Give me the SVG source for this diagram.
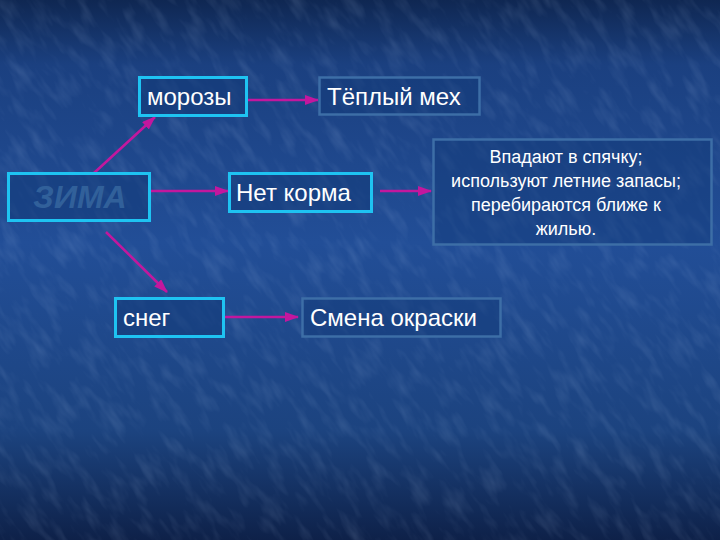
<svg xmlns="http://www.w3.org/2000/svg" width="720" height="540" viewBox="0 0 720 540">
<defs>
<linearGradient id="bg" x1="0" y1="0" x2="0" y2="1">
<stop offset="0" stop-color="#0f2752"/>
<stop offset="0.12" stop-color="#1b4080"/>
<stop offset="0.45" stop-color="#224e97"/>
<stop offset="0.8" stop-color="#1c437f"/>
<stop offset="1" stop-color="#0e2149"/>
</linearGradient>
<filter id="tex" x="0" y="0" width="100%" height="100%">
<feTurbulence type="fractalNoise" baseFrequency="0.09 0.03" numOctaves="3" seed="7" result="n"/>
<feColorMatrix type="matrix" values="0 0 0 0 0.6  0 0 0 0 0.75  0 0 0 0 1  0 0 0 1.3 -0.6"/>
</filter>
<marker id="ah" markerWidth="14" markerHeight="10" refX="13" refY="5" orient="auto" markerUnits="userSpaceOnUse">
<path d="M0,0 L14,5 L0,10 Z" fill="#c3179e"/>
</marker>
<style>
.hot{fill:#123a78;fill-opacity:0.55;stroke:#1ec3f2;stroke-width:3}
.cool{fill:#123a78;fill-opacity:0.45;stroke:#3d6ea6;stroke-width:2.5}
.t{font-family:"Liberation Sans",Arial,sans-serif;font-size:24px;fill:#ffffff}
.s{font-family:"Liberation Sans",Arial,sans-serif;font-size:18px;fill:#ffffff;text-anchor:middle}
.c{stroke:#c3179e;stroke-width:2.5;fill:none;marker-end:url(#ah)}
</style>
</defs>
<rect width="720" height="540" fill="url(#bg)"/>
<g transform="rotate(-35 360 270)">
<rect x="-200" y="-200" width="1120" height="940" filter="url(#tex)" opacity="0.2"/>
</g>
<g id="connectors">
<line class="c" x1="248" y1="100" x2="318" y2="100"/>
<line class="c" x1="94" y1="173" x2="155" y2="117"/>
<line class="c" x1="151" y1="191" x2="228" y2="191"/>
<line class="c" x1="106" y1="232" x2="167" y2="292"/>
<line class="c" x1="380" y1="191" x2="431" y2="191"/>
<line class="c" x1="225" y1="317" x2="298" y2="317"/>
</g>
<g id="zima">
<rect class="hot" x="8.5" y="173.5" width="141" height="47"/>
<text x="80" y="208" text-anchor="middle" font-family="Liberation Sans,Arial,sans-serif" font-size="32" font-weight="bold" font-style="italic" fill="#31609a">ЗИМА</text>
</g>
<g id="morozy">
<rect class="hot" x="139.5" y="77.5" width="107" height="38"/>
<text class="t" x="147" y="105">морозы</text>
</g>
<g id="teply">
<rect class="cool" x="319.5" y="77.5" width="160" height="37"/>
<text class="t" x="327" y="105">Тёплый мех</text>
</g>
<g id="netkorma">
<rect class="hot" x="229.5" y="173.5" width="142" height="38"/>
<text class="t" x="236" y="201">Нет корма</text>
</g>
<g id="vpadayut">
<rect class="cool" x="433.5" y="139.5" width="278" height="105"/>
<text class="s" x="566" y="163">Впадают в спячку;</text>
<text class="s" x="566" y="187">используют летние запасы;</text>
<text class="s" x="566" y="211">перебираются ближе к</text>
<text class="s" x="566" y="235">жилью.</text>
</g>
<g id="sneg">
<rect class="hot" x="115.5" y="298.5" width="108" height="38"/>
<text class="t" x="123" y="326">снег</text>
</g>
<g id="smena">
<rect class="cool" x="302.5" y="298.5" width="198" height="38"/>
<text class="t" x="310" y="326">Смена окраски</text>
</g>
</svg>
